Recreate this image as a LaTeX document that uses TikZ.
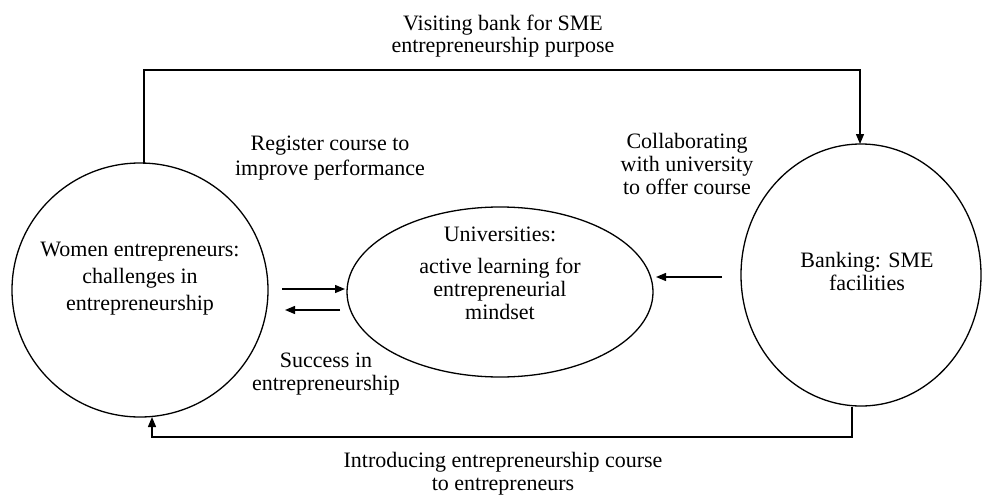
\documentclass[tikz,border=0pt]{standalone}
\usepackage{fontspec}
\setmainfont{Liberation Serif}
\usetikzlibrary{arrows.meta,shapes.geometric}
\begin{document}
\begin{tikzpicture}[x=1pt,y=-1pt,
  lbl/.style={align=center,font=\fontsize{22}{23}\selectfont,inner sep=0pt,anchor=base},
  conn/.style={line width=1.3pt,-{Triangle[length=10pt,width=8pt]}},
  shp/.style={draw,line width=1.3pt}]
\useasboundingbox (0,0) rectangle (983,495);
% shapes
\node[shp,ellipse,minimum width=256,minimum height=254,inner sep=0pt] (women) at (140,290) {};
\node[shp,ellipse,minimum width=306,minimum height=170,inner sep=0pt] (uni) at (500,292) {};
\node[shp,ellipse,minimum width=240,minimum height=262,inner sep=0pt] (bank) at (861,275) {};
% texts (anchor = baseline of last line)
\node[lbl,font=\fontsize{22}{27}\selectfont] (wt) at (140,310) {Women entrepreneurs:\\challenges in\\entrepreneurship};
\node[lbl] (ut1) at (500,241) {Universities:};
\node[lbl] (ut2) at (500,319) {active learning for\\entrepreneurial\\mindset};
\node[lbl] (bt) at (867,290) {Banking: SME\\facilities};
\node[lbl] (top) at (503,53) {Visiting bank for SME\\entrepreneurship purpose};
\node[lbl,font=\fontsize{22}{25}\selectfont] (reg) at (330,175) {Register course to\\improve performance};
\node[lbl] (col) at (687,194) {Collaborating\\with university\\to offer course};
\node[lbl] (succ) at (326,390) {Success in\\entrepreneurship};
\node[lbl] (intro) at (503,490) {Introducing entrepreneurship course\\to entrepreneurs};
% connectors
\coordinate (a1) at (282,289);
\coordinate (a2) at (345,289);
\coordinate (b1) at (340,310);
\coordinate (b2) at (285,310);
\coordinate (c1) at (722,277);
\coordinate (c2) at (656,277);
\draw[conn] (a1) -- (a2);
\draw[conn] (b1) -- (b2);
\draw[conn] (c1) -- (c2);
\coordinate (t1) at (144,164);
\coordinate (t2) at (860,144);
\draw[conn] (t1) -- (144,70) -- (860,70) -- (t2);
\coordinate (u1) at (852,407);
\coordinate (u2) at (152,417);
\draw[conn] (u1) -- (852,437) -- (152,437) -- (u2);
\end{tikzpicture}
\end{document}
